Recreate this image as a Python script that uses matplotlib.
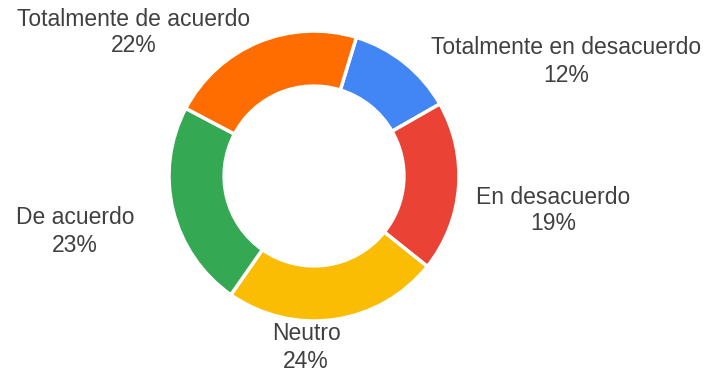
import matplotlib
matplotlib.use("Agg")
import matplotlib.pyplot as plt

categories = ["Totalmente en desacuerdo", "En desacuerdo", "Neutro", "De acuerdo", "Totalmente de acuerdo"]
values = [12, 19, 24, 23, 22]
colors = ["#4285F4", "#EA4335", "#FBBC04", "#34A853", "#FF6D01"]

W, H = 718, 375
fig = plt.figure(figsize=(W / 100, H / 100), dpi=100)
ax = fig.add_axes([0, 0, 1, 1])

cx, cy, R = 314, H - 176, 145
ax.pie(values, colors=colors, startangle=73, counterclock=False,
       center=(cx, cy), radius=R, frame=True,
       wedgeprops=dict(width=R * 0.38, edgecolor="white", linewidth=2.5))
ax.set_xlim(0, W)
ax.set_ylim(0, H)
ax.set_aspect("equal")
ax.axis("off")

# label positions in pixel coordinates (center x, first line y)
label_pos = [(566, 48), (553, 197), (306, 334), (75, 218), (134, 19)]
for cat, v, (lx, ly) in zip(categories, values, label_pos):
    ax.text(lx, H - ly, cat, ha="center", va="center", fontsize=16.5,
            color="#404040", family="Liberation Sans")
    ax.text(lx, H - ly - 27, f"{v}%", ha="center", va="center", fontsize=16.5,
            color="#404040", family="Liberation Sans")

fig.savefig("out.png", dpi=100, facecolor="white")
